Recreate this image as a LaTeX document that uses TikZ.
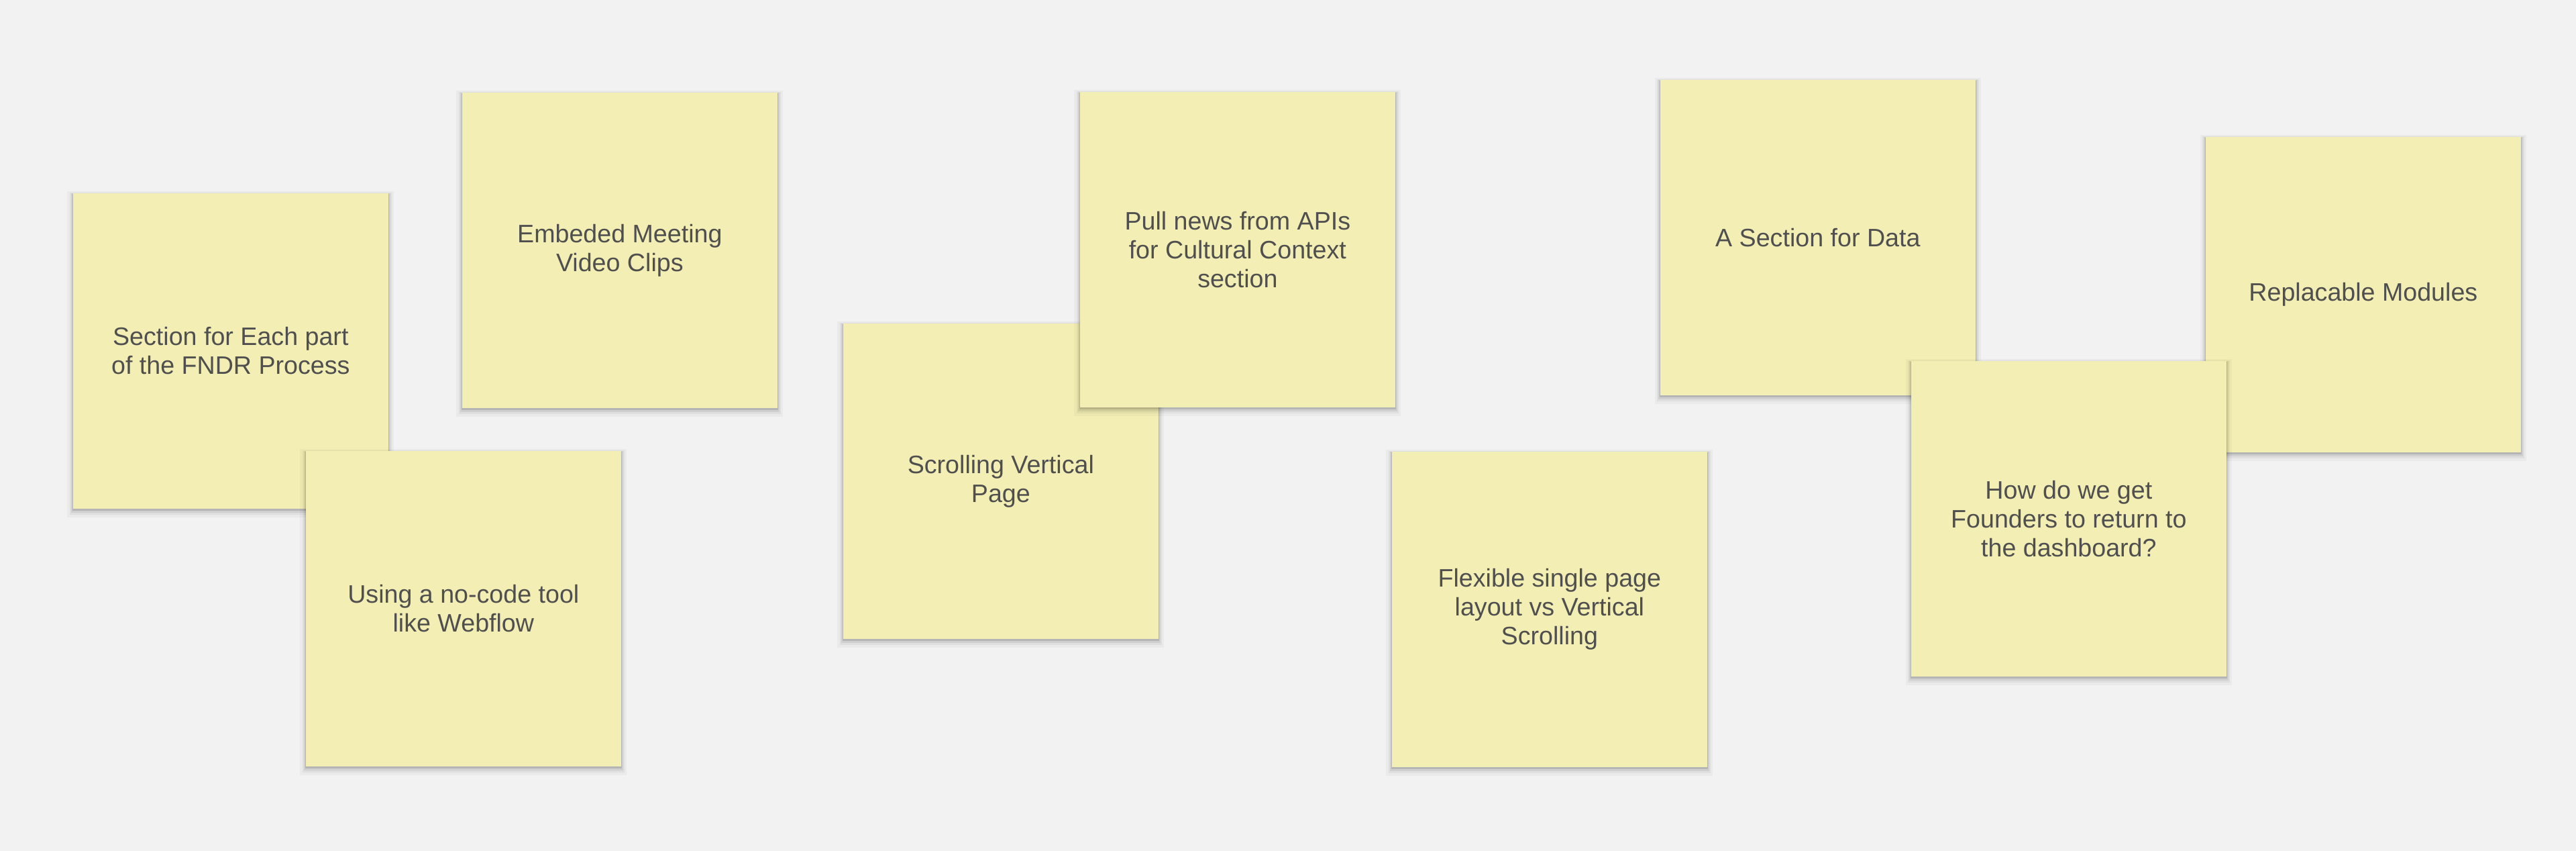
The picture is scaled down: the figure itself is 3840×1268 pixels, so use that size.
\documentclass[tikz,border=0pt]{standalone}
\usepackage{fontspec}
\setmainfont{Liberation Sans}
\usetikzlibrary{shadows}
\definecolor{bgcol}{HTML}{F2F2F2}
\definecolor{notefill}{HTML}{F3EFB4}
\definecolor{notetext}{HTML}{4F4F4F}
\tikzset{
  sticky/.style={
    fill=notefill, draw=none, inner sep=0pt, anchor=north west,
    minimum width=4.7cm, minimum height=4.7cm, align=center,
    text=notetext, font=\fontsize{10.7}{12.2}\selectfont,
    general shadow={fill=black, opacity=0.03, shadow scale=1.035, shadow yshift=-0.05cm},
    general shadow={fill=black, opacity=0.045, shadow scale=1.022, shadow yshift=-0.04cm},
    general shadow={fill=black, opacity=0.07, shadow scale=1.012, shadow yshift=-0.03cm},
    general shadow={fill=black, opacity=0.12, shadow scale=1.004, shadow yshift=-0.02cm}
  }
}
\begin{document}
\begin{tikzpicture}[x=0.01cm,y=-0.01cm]
\fill[bgcol] (0,0) rectangle (3840,1268);
\useasboundingbox (0,0) rectangle (3840,1268);
\node[sticky] (n1) at (108,287) {Section for Each part\\of the FNDR Process};
\node[sticky] (n2) at (688,137) {Embeded Meeting\\Video Clips};
\node[sticky] (n3) at (455,671) {Using a no-code tool\\like Webflow};
\node[sticky] (n4) at (1256,481) {Scrolling Vertical\\Page};
\node[sticky] (n5) at (1609,136) {Pull news from APIs\\for Cultural Context\\section};
\node[sticky] (n6) at (2074,672) {Flexible single page\\layout vs Vertical\\Scrolling};
\node[sticky] (n7) at (2474,118) {A Section for Data};
\node[sticky] (n8) at (3287,203) {Replacable Modules};
\node[sticky] (n9) at (2848,537) {How do we get\\Founders to return to\\the dashboard?};
\end{tikzpicture}
\end{document}
